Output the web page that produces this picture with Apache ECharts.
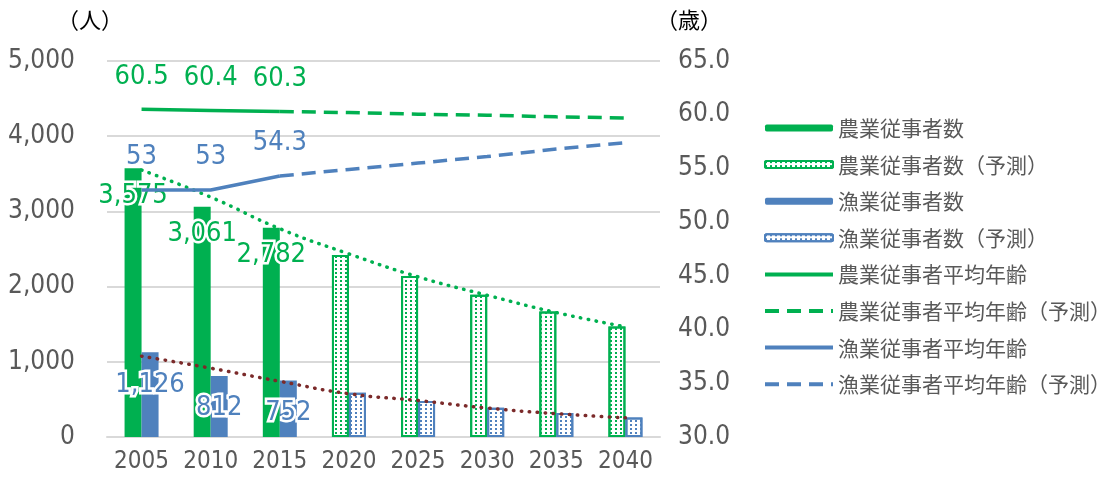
<!DOCTYPE html>
<html><head><meta charset="utf-8">
<script src="https://cdn.jsdelivr.net/npm/echarts@6/dist/echarts.min.js"></script>
<style>html,body{margin:0;padding:0;background:#fff}#c{width:1107px;height:480px}</style>
</head><body><div id="c"></div>
<script>
const years = ['2005','2010','2015','2020','2025','2030','2035','2040'];
const agriWorkers = [3575, 3061, 2782, null, null, null, null, null];
const agriWorkersForecast = [null, null, null, 2420, 2140, 1890, 1670, 1470];
const fishWorkers = [1126, 812, 752, null, null, null, null, null];
const fishWorkersForecast = [null, null, null, 590, 480, 390, 320, 260];
const agriAge = [60.5, 60.4, 60.3, null, null, null, null, null];
const agriAgeForecast = [null, null, 60.3, 60.2, 60.05, 59.95, 59.8, 59.7];
const fishAge = [53, 53, 54.3, null, null, null, null, null];
const fishAgeForecast = [null, null, 54.3, 54.9, 55.5, 56.1, 56.8, 57.4];
const agriTrend = [3550, 3190, 2770, 2435, 2130, 1885, 1655, 1465];
const fishTrend = [1075, 915, 740, 575, 485, 385, 310, 255];
const leftTicks = {min: 0, max: 5000, interval: 1000};
const rightTicks = {min: 30, max: 65, interval: 5};
const legendNames = ['農業従事者数', '農業従事者数（予測）', '漁業従事者数', '漁業従事者数（予測）',
  '農業従事者平均年齢', '農業従事者平均年齢（予測）', '漁業従事者平均年齢', '漁業従事者平均年齢（予測）'];

const GREEN = '#00B050', BLUE = '#4F81BD', BROWN = '#7B2A2A', GRAY = '#595959';
const NUM_FONT = "'Liberation Sans Narrow','DejaVu Sans Condensed','Noto Sans CJK JP',sans-serif";
const CJK_FONT = "'Noto Sans CJK JP',sans-serif";

const fmtThousands = v => v == null ? '' : String(v).replace(/\B(?=(\d{3})+(?!\d))/g, ',');

const barLabel = (color, dist) => ({
  show: true, position: 'insideTop', distance: dist, color: color,
  fontFamily: NUM_FONT, fontSize: 27, textBorderColor: '#fff', textBorderWidth: 5,
  formatter: p => fmtThousands(p.value)
});
const ageLabel = (color, fmt) => ({
  show: true, position: 'top', distance: 19, color: color,
  fontFamily: NUM_FONT, fontSize: 27, formatter: fmt
});
const decal = c => ({symbol: 'rect', symbolSize: 1, color: c, dashArrayX: [2, 3], dashArrayY: [2, 2]});

const legendData = legendNames.map((n, i) => i < 4 ? {name: n} : {name: n, itemStyle: {opacity: 0}});

const chart = echarts.init(document.getElementById('c'), null, {renderer: 'canvas'});
chart.setOption({
  animation: false,
  backgroundColor: '#fff',
  grid: {left: 107, right: 447, top: 61, bottom: 43},
  legend: {
    orient: 'vertical', left: 763, top: 116, padding: 0, itemWidth: 68, itemHeight: 7, itemGap: 12.6,
    textStyle: {fontFamily: CJK_FONT, fontSize: 21, color: GRAY, lineHeight: 24},
    lineStyle: {width: 4},
    data: legendData
  },
  xAxis: {
    type: 'category', data: years,
    axisLine: {show: true, lineStyle: {color: '#D9D9D9', width: 2}},
    axisTick: {show: false},
    axisLabel: {color: GRAY, fontFamily: NUM_FONT, fontSize: 24, margin: 13, interval: 0}
  },
  yAxis: [
    {
      type: 'value', min: leftTicks.min, max: leftTicks.max, interval: leftTicks.interval,
      name: '（人）', nameGap: 30, nameTextStyle: {color: '#000', fontFamily: CJK_FONT, fontSize: 22, align: 'right', padding: [0, -16, 0, 0]},
      axisLabel: {color: GRAY, fontFamily: NUM_FONT, fontSize: 26, margin: 32, formatter: fmtThousands},
      axisLine: {show: false}, axisTick: {show: false},
      splitLine: {lineStyle: {color: '#D9D9D9', width: 2}}
    },
    {
      type: 'value', min: rightTicks.min, max: rightTicks.max, interval: rightTicks.interval,
      name: '（歳）', nameGap: 30, nameTextStyle: {color: '#000', fontFamily: CJK_FONT, fontSize: 22, align: 'left', padding: [0, 0, 0, -4]},
      axisLabel: {color: GRAY, fontFamily: NUM_FONT, fontSize: 26, margin: 18, formatter: v => v.toFixed(1)},
      axisLine: {show: false}, axisTick: {show: false}, splitLine: {show: false}
    }
  ],
  series: [
    {name: legendNames[0], type: 'bar', stack: 'agri', data: agriWorkers, barWidth: 17, barGap: '0%',
     itemStyle: {color: GREEN}, label: barLabel(GREEN, 14), z: 2},
    {name: legendNames[1], type: 'bar', stack: 'agri', data: agriWorkersForecast, barWidth: 17, barGap: '0%',
     itemStyle: {color: '#fff', borderColor: GREEN, borderWidth: 2, decal: decal(GREEN)}, z: 2},
    {name: legendNames[2], type: 'bar', stack: 'fish', data: fishWorkers, barWidth: 17, barGap: '0%',
     itemStyle: {color: BLUE}, label: barLabel(BLUE, 19), z: 2},
    {name: legendNames[3], type: 'bar', stack: 'fish', data: fishWorkersForecast, barWidth: 17, barGap: '0%',
     itemStyle: {color: '#fff', borderColor: BLUE, borderWidth: 2, decal: decal(BLUE)}, z: 2},
    {name: 'agriTrend', type: 'line', data: agriTrend, symbol: 'none', smooth: true, z: 3,
     lineStyle: {color: GREEN, width: 3.5, type: [0.5, 7.5], cap: 'round'}, itemStyle: {color: GREEN}},
    {name: 'fishTrend', type: 'line', data: fishTrend, symbol: 'none', smooth: true, z: 3,
     lineStyle: {color: BROWN, width: 3.5, type: [0.5, 7.5], cap: 'round'}, itemStyle: {color: BROWN}},
    {name: legendNames[4], type: 'line', yAxisIndex: 1, data: agriAge, symbol: 'circle', symbolSize: 0.1, showAllSymbol: true, z: 4,
     lineStyle: {color: GREEN, width: 3.5}, itemStyle: {color: GREEN},
     label: ageLabel(GREEN, p => p.value.toFixed(1))},
    {name: legendNames[5], type: 'line', yAxisIndex: 1, data: agriAgeForecast, symbol: 'none', z: 4,
     lineStyle: {color: GREEN, width: 3.5, type: [14, 8]}, itemStyle: {color: GREEN}},
    {name: legendNames[6], type: 'line', yAxisIndex: 1, data: fishAge, symbol: 'circle', symbolSize: 0.1, showAllSymbol: true, z: 4,
     lineStyle: {color: BLUE, width: 3.5}, itemStyle: {color: BLUE},
     label: ageLabel(BLUE, p => String(p.value))},
    {name: legendNames[7], type: 'line', yAxisIndex: 1, data: fishAgeForecast, symbol: 'none', z: 4,
     lineStyle: {color: BLUE, width: 3.5, type: [14, 8]}, itemStyle: {color: BLUE}}
  ]
});
</script></body></html>
